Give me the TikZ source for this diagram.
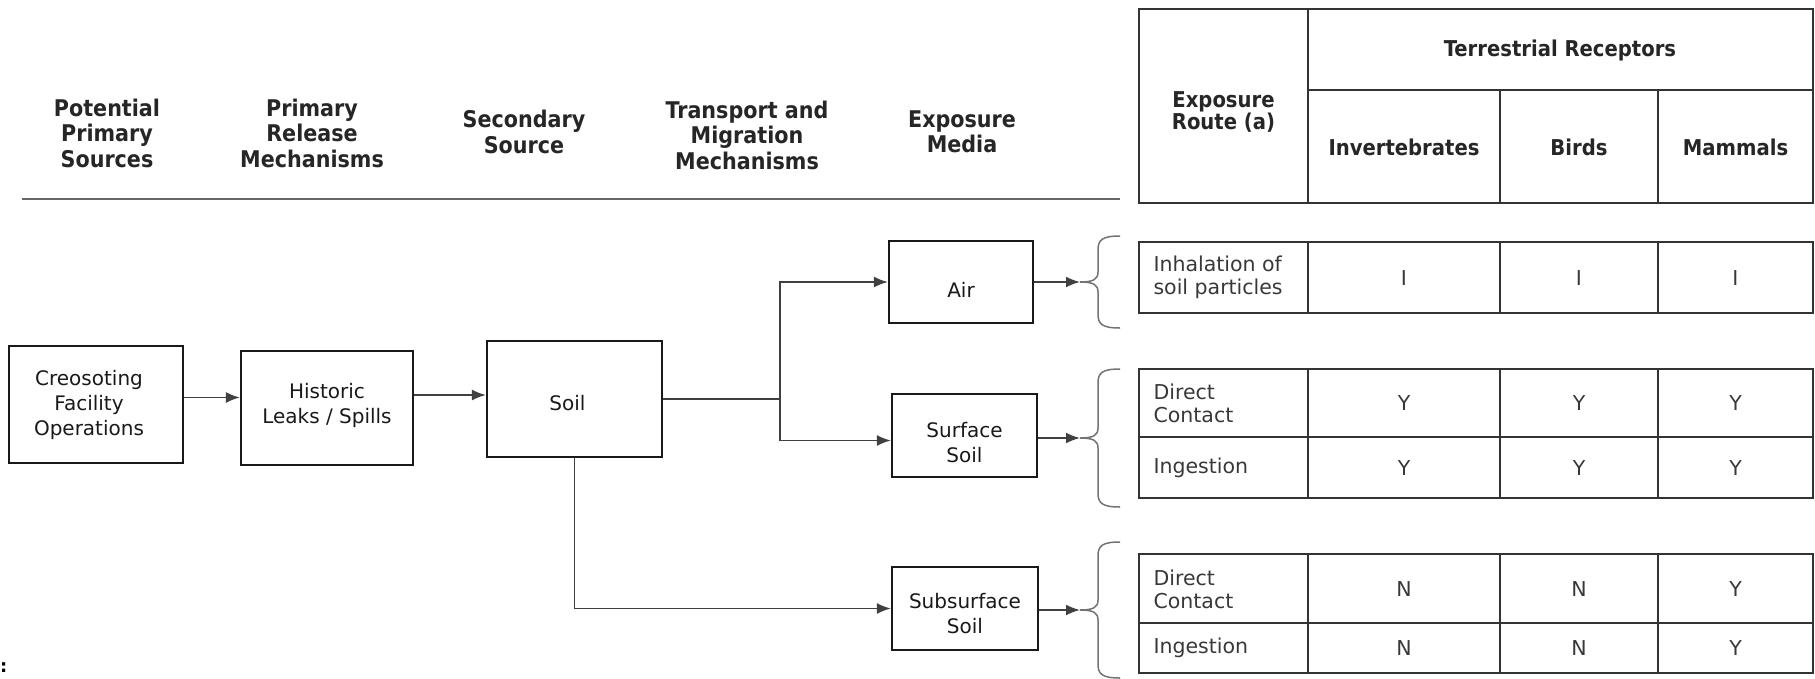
\documentclass[tikz,border=0pt]{standalone}
\usepackage{fontspec}
\setmainfont{DejaVu Sans}
\newfontfamily\capfont{DejaVu Sans Condensed}
\usetikzlibrary{arrows.meta}
% clau: dalt, punta, baix
\newcommand{\dibclau}[3]{%
  \draw[clau] (1120,#1) .. controls (1102,#1) and (1098,{#1+4}) .. (1098,{#1+14})
    -- (1098,{#2-10}) .. controls (1098,{#2-3}) and (1094,#2) .. (1080,#2)
    .. controls (1094,#2) and (1098,{#2+3}) .. (1098,{#2+10})
    -- (1098,{#3-14}) .. controls (1098,{#3-4}) and (1102,#3) .. (1120,#3);}

\begin{document}
\begin{tikzpicture}[x=1pt, y=-1pt,
    caixa/.style={draw=black!90, line width=2.2pt, inner sep=0pt},
    textcaixa/.style={align=center, text=black!90, font=\fontsize{20}{25}\selectfont},
    capcal/.style={font=\capfont\bfseries\fontsize{23}{25.5}\selectfont, align=center, text=black!85},
    taulacap/.style={font=\capfont\bfseries\fontsize{21.8}{22}\selectfont, align=center, text=black!85},
    cella/.style={font=\fontsize{20.5}{23}\selectfont, text=black!78},
    fletxa/.style={-{Latex[length=14pt,width=11pt]}, line width=1.8pt, draw=black!75},
    clau/.style={line width=1.5pt, draw=black!55},
    graella/.style={line width=2.6pt, draw=black!80}]
    \useasboundingbox (0,0) rectangle (1815,678);

    % capcaleres
    \node[capcal] (h1) at (107,133) {Potential\\Primary\\Sources};
    \node[capcal] (h2) at (312,133) {Primary\\Release\\Mechanisms};
    \node[capcal] (h3) at (524,132) {Secondary\\Source};
    \node[capcal] (h4) at (747,135) {Transport and\\Migration\\Mechanisms};
    \node[capcal] (h5) at (962,132) {Exposure\\Media};
    \draw[line width=1.6pt, draw=black!60] (22,199) -- (1120,199);

    % caixes
    \node[caixa, minimum width=174, minimum height=117] (creo) at (96,404.5) {};
    \node[caixa, minimum width=172, minimum height=114] (hist) at (327,408) {};
    \node[caixa, minimum width=175, minimum height=116] (soil) at (574.5,399) {};
    \node[caixa, minimum width=144, minimum height=82] (air) at (961,282) {};
    \node[caixa, minimum width=145, minimum height=83] (surf) at (964.5,435.5) {};
    \node[caixa, minimum width=146, minimum height=83] (sub) at (965,608.5) {};
    \node[textcaixa] (creotxt) at ([shift={(-7,0)}]creo.center) {Creosoting\\Facility\\Operations};
    \node[textcaixa] (histtxt) at ([shift={(0,-3)}]hist.center) {Historic\\Leaks / Spills};
    \node[textcaixa] (soiltxt) at ([shift={(-7,4)}]soil.center) {Soil};
    \node[textcaixa] (airtxt) at ([shift={(0,8)}]air.center) {Air};
    \node[textcaixa] (surftxt) at ([shift={(0,7)}]surf.center) {Surface\\Soil};
    \node[textcaixa] (subtxt) at ([shift={(0,5)}]sub.center) {Subsurface\\Soil};

    % fletxes
    \draw[fletxa] ([yshift=7pt]creo.east) -- ([yshift=7pt]creo.east -| hist.west);
    \draw[fletxa] ([yshift=13pt]hist.east) -- ([yshift=13pt]hist.east -| soil.west);
    \draw[fletxa] (soil.east) -- ++(117,0) coordinate (split) |- (air.west);
    \draw[fletxa] (split) |- ([yshift=-5pt]surf.west);
    \draw[fletxa] (soil.south) |- (sub.west);

    % claus
    \coordinate (clau1) at (1080,282);
    \coordinate (clau2) at (1080,438);
    \coordinate (clau3) at (1080,610);
    \dibclau{236}{282}{328}
    \dibclau{369}{438}{507}
    \dibclau{542}{610}{678}
    \draw[fletxa] (air.east |- clau1) -- (clau1);
    \draw[fletxa] (surf.east |- clau2) -- (clau2);
    \draw[fletxa] (sub.east |- clau3) -- (clau3);

    % taula de receptors
    \draw[graella] (1139,9) rectangle (1813,203);
    \draw[graella] (1308,9) -- (1308,203) (1308,90) -- (1813,90);
    \draw[graella] (1500,90) -- (1500,203) (1658,90) -- (1658,203);
    \node[taulacap] (ruta) at (1223.5,112) {Exposure\\Route (a)};
    \node[taulacap] (terr) at (1560,50) {Terrestrial Receptors};
    \node[taulacap] (inv) at (1404,147) {Invertebrates};
    \node[taulacap] (ocells) at (1579,147) {Birds};
    \node[taulacap] (mam) at (1735.5,147) {Mammals};

    \foreach \t/\b in {242/313, 369/498, 554/673} {
      \draw[graella] (1139,\t) rectangle (1813,\b);
      \foreach \x in {1308,1500,1658} \draw[graella] (\x,\t) -- (\x,\b);
    }
    \draw[graella] (1139,437) -- (1813,437);
    \draw[graella] (1139,623) -- (1813,623);

    \node[cella, anchor=west, align=left] (r1) at (1150,277.5) {Inhalation of\\soil particles};
    \node[cella, anchor=west, align=left] (r2) at (1150,403) {Direct\\Contact};
    \node[cella, anchor=west] (r3) at (1150,468) {Ingestion};
    \node[cella, anchor=west, align=left] (r4) at (1150,589) {Direct\\Contact};
    \node[cella, anchor=west] (r5) at (1150,648) {Ingestion};

    \foreach \y/\a/\b/\c [count=\i] in {278/I/I/I, 403/Y/Y/Y, 468/Y/Y/Y, 589/N/N/Y, 648/N/N/Y} {
      \node[cella] (inv\i) at (1404,\y) {\a};
      \node[cella] (ocell\i) at (1579,\y) {\b};
      \node[cella] (mam\i) at (1735.5,\y) {\c};
    }

    \node[font=\bfseries\fontsize{18}{18}\selectfont, anchor=west, inner sep=0pt] (dospunts) at (0,668) {:};
\end{tikzpicture}
\end{document}
